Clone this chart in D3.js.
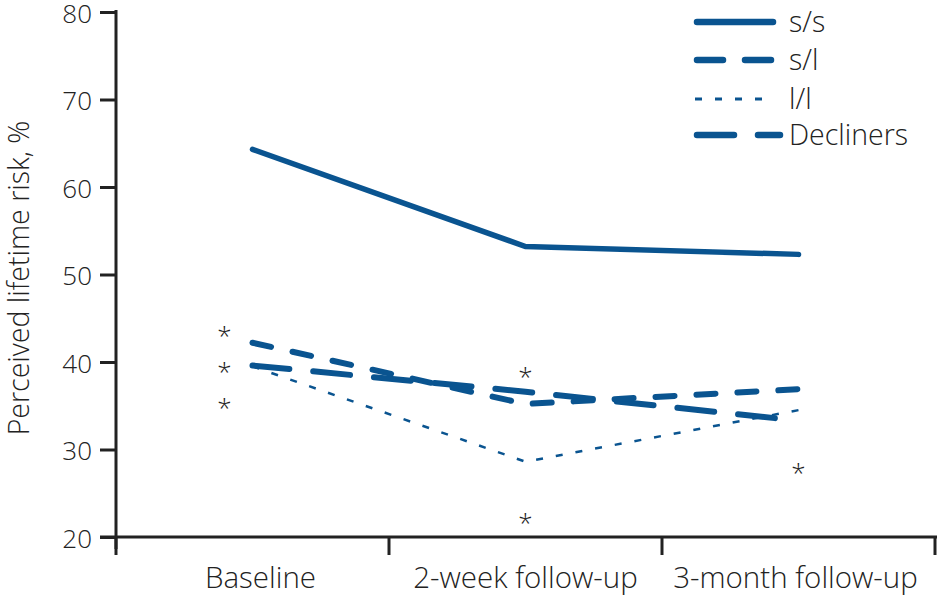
<!DOCTYPE html>
<html><head><meta charset="utf-8">
<script src="https://cdn.jsdelivr.net/npm/d3@7"></script>
<style>body{margin:0;background:#fff}svg text{font-family:"Open Sans","DejaVu Sans",sans-serif;font-weight:300;fill:#222}</style>
</head><body><svg id="c" width="940" height="597"></svg>
<script>
const categories = ["Baseline", "2-week follow-up", "3-month follow-up"];
const seriesNames = ["s/s", "s/l", "l/l", "Decliners"];
const ssValues = [64.3, 53.2, 52.3];
const slValues = [42.2, 35.2, 36.9];
const llValues = [39.5, 28.6, 34.5];
const declinersValues = [39.6, 36.6, 33.3];
const yTicks = [20, 30, 40, 50, 60, 70, 80];
// significance asterisks: [category index, value]
const asterisks = [[0, 43.3], [0, 39.2], [0, 35.1], [1, 38.6], [1, 22.0], [2, 27.7]];

const color = "#0a5490";
const svg = d3.select("#c");
const x = d3.scaleBand().domain(categories).range([116, 935]);
const y = d3.scaleLinear().domain([20, 80]).range([537, 12]);

// y axis
const ya = svg.append("g").attr("transform", "translate(116,0)")
  .call(d3.axisLeft(y).tickValues(yTicks).tickSize(16).tickPadding(8));
ya.select(".domain").remove();
ya.selectAll(".tick line").attr("stroke", "#222").attr("stroke-width", 3);
ya.selectAll(".tick text").style("font-size", "26px").attr("dy", "0.4em");
svg.append("line").attr("x1", 116).attr("x2", 116).attr("y1", 10).attr("y2", 549)
  .attr("stroke", "#222").attr("stroke-width", 3);

// x axis
svg.append("line").attr("x1", 100).attr("x2", 937).attr("y1", y(20)).attr("y2", y(20))
  .attr("stroke", "#222").attr("stroke-width", 3);
const bounds = [116].concat(categories.map(c => x(c) + x.bandwidth()));
svg.selectAll(".xt").data(bounds).enter().append("line")
  .attr("x1", d => d).attr("x2", d => d).attr("y1", y(20)).attr("y2", 555)
  .attr("stroke", "#222").attr("stroke-width", 3);
svg.selectAll(".xl").data(categories).enter().append("text")
  .attr("x", (d, i) => x(d) + x.bandwidth() / 2 + [8, 0, -3][i])
  .attr("y", 588).attr("text-anchor", "middle").style("font-size", "29.5px").text(d => d);

// y label
svg.append("text").attr("transform", "translate(29,278) rotate(-90)")
  .attr("text-anchor", "middle").style("font-size", "28.5px").text("Perceived lifetime risk, %");

const styles = {
  "s/s": {w: 5.5, dash: null},
  "s/l": {w: 6, dash: "19,22"},
  "l/l": {w: 2.5, dash: "7,13"},
  "Decliners": {w: 6, dash: "37,24"}
};
const data = {"s/s": ssValues, "s/l": slValues, "l/l": llValues, "Decliners": declinersValues};
const line = d3.line().x((d, i) => x(categories[i]) + x.bandwidth() / 2).y(d => y(d));

["l/l", "Decliners", "s/l", "s/s"].forEach(name => {
  const st = styles[name];
  svg.append("path").attr("d", line(data[name])).attr("fill", "none")
    .attr("stroke", color).attr("stroke-width", st.w)
    .attr("stroke-linecap", name === "l/l" ? "butt" : "round")
    .attr("stroke-dasharray", st.dash);
});

// asterisks
svg.selectAll(".ast").data(asterisks).enter().append("text")
  .attr("x", d => x(categories[d[0]]) + x.bandwidth() / 2 + (d[0] === 0 ? -28 : 0))
  .attr("y", d => y(d[1]) + 12).attr("text-anchor", "middle")
  .style("font-size", "26px").text("*");

// legend
const legY = [22, 60, 99, 135];
const lg = svg.append("g");
seriesNames.forEach((name, i) => {
  const legDash = {"s/s": null, "s/l": "26,22", "l/l": "7,13", "Decliners": "37,24"}[name];
  lg.append("line").attr("x1", name === "l/l" ? 695 : 697).attr("x2", name === "Decliners" ? 780 : 773)
    .attr("y1", legY[i]).attr("y2", legY[i])
    .attr("stroke", color).attr("stroke-width", name === "l/l" ? 3 : 6.5)
    .attr("stroke-linecap", name === "l/l" ? "butt" : "round")
    .attr("stroke-dasharray", legDash);
  lg.append("text").attr("x", 789).attr("y", legY[i] + 10).style("font-size", "28.5px").text(name);
});
</script></body></html>
